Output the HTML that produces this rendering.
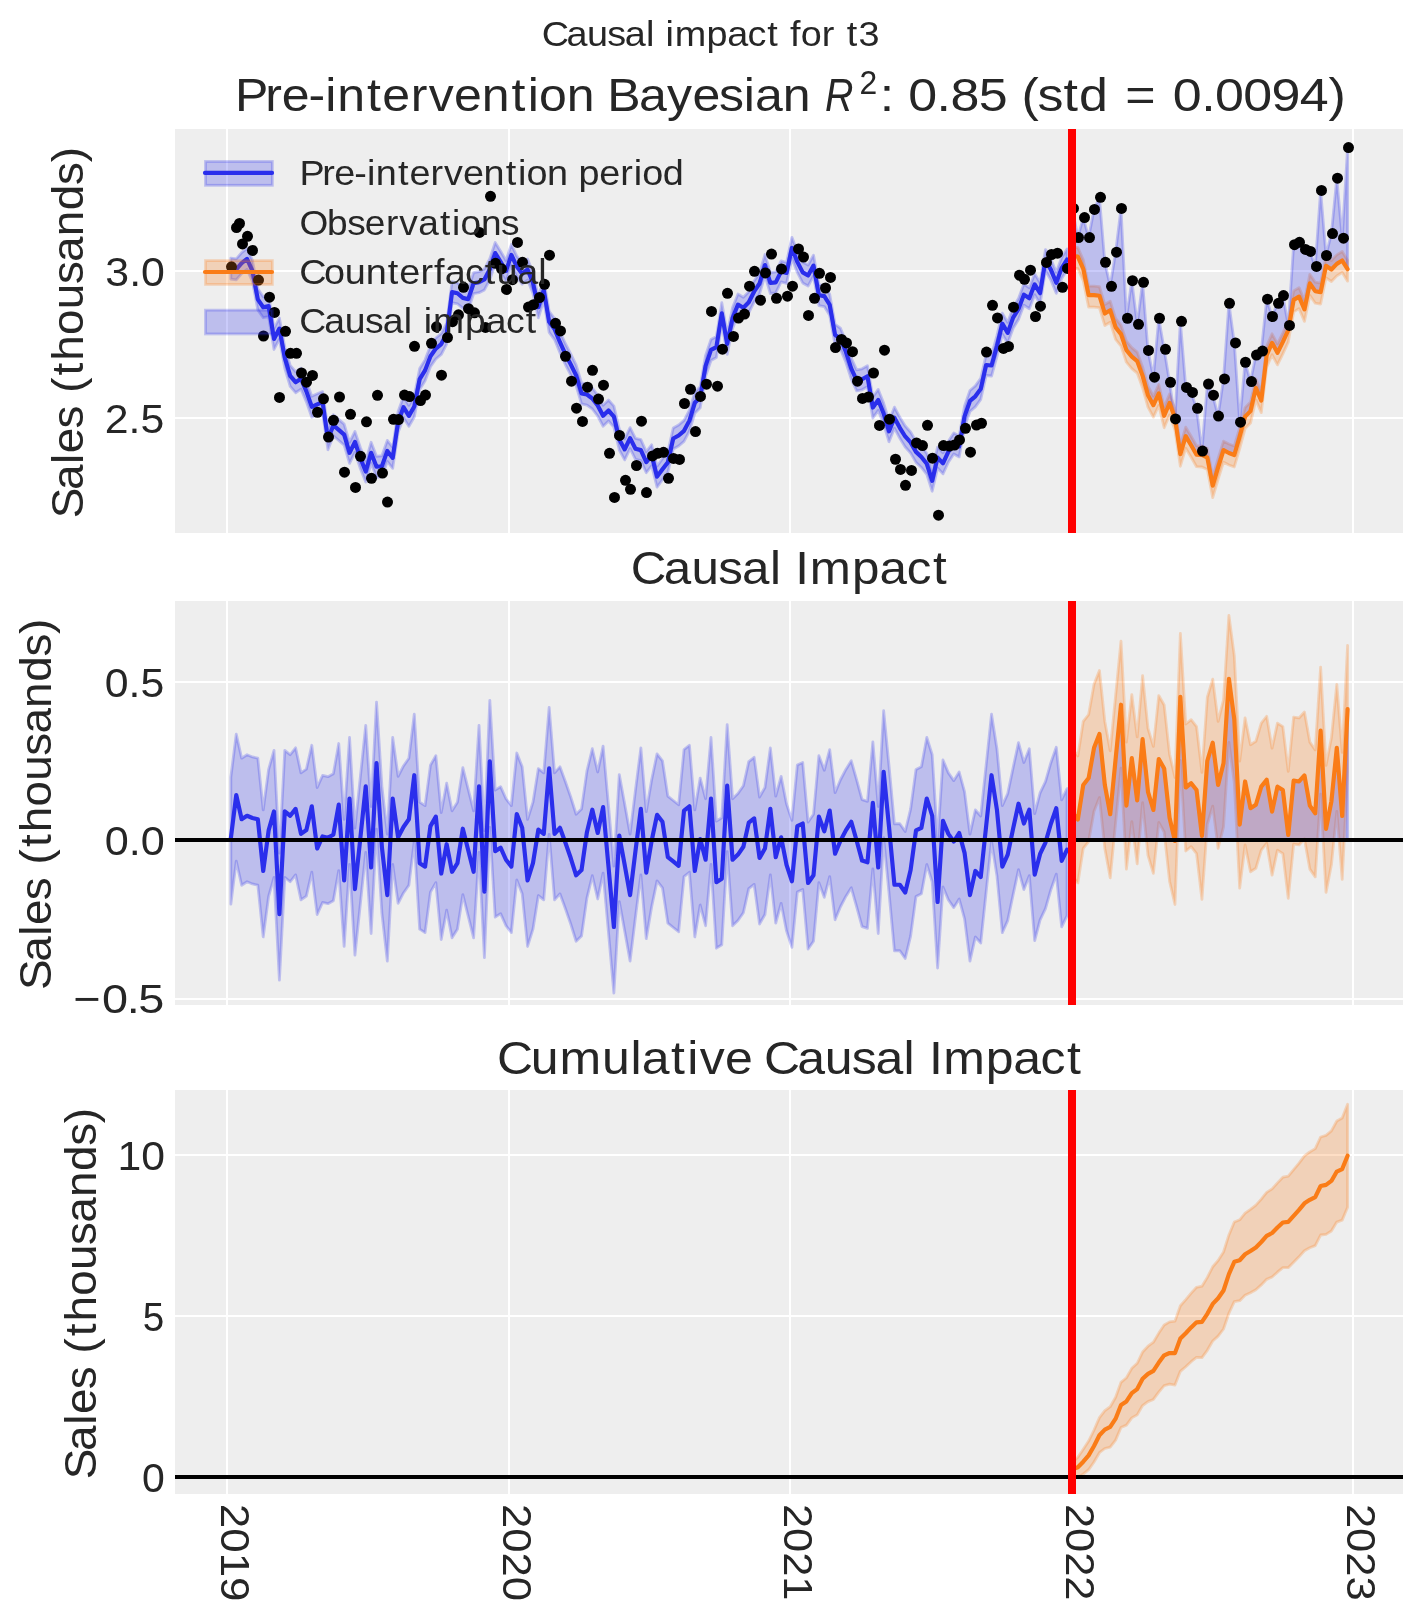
<!DOCTYPE html>
<html><head><meta charset="utf-8"><style>html,body{margin:0;padding:0;background:#fff;overflow:hidden;}svg{display:block;will-change:transform;}</style></head><body>
<svg width="1423" height="1623" viewBox="0 0 1423 1623" font-family='"Liberation Sans", sans-serif'>
<rect width="1423" height="1623" fill="#ffffff"/>
<defs><clipPath id="c0"><rect x="175" y="129" width="1228" height="404"/></clipPath></defs>
<defs><clipPath id="c1"><rect x="175" y="601" width="1228" height="404"/></clipPath></defs>
<defs><clipPath id="c2"><rect x="175" y="1090" width="1228" height="404"/></clipPath></defs>
<rect x="175" y="129" width="1228" height="404" fill="#eeeeee"/>
<line x1="227.00" y1="129" x2="227.00" y2="533" stroke="#fff" stroke-width="2.0"/><line x1="509.00" y1="129" x2="509.00" y2="533" stroke="#fff" stroke-width="2.0"/><line x1="790.00" y1="129" x2="790.00" y2="533" stroke="#fff" stroke-width="2.0"/><line x1="1072.00" y1="129" x2="1072.00" y2="533" stroke="#fff" stroke-width="2.0"/><line x1="1353.00" y1="129" x2="1353.00" y2="533" stroke="#fff" stroke-width="2.0"/><line x1="175" y1="271.00" x2="1403" y2="271.00" stroke="#fff" stroke-width="2.0"/><line x1="175" y1="418.00" x2="1403" y2="418.00" stroke="#fff" stroke-width="2.0"/>
<rect x="175" y="601" width="1228" height="404" fill="#eeeeee"/>
<line x1="227.00" y1="601" x2="227.00" y2="1005" stroke="#fff" stroke-width="2.0"/><line x1="509.00" y1="601" x2="509.00" y2="1005" stroke="#fff" stroke-width="2.0"/><line x1="790.00" y1="601" x2="790.00" y2="1005" stroke="#fff" stroke-width="2.0"/><line x1="1072.00" y1="601" x2="1072.00" y2="1005" stroke="#fff" stroke-width="2.0"/><line x1="1353.00" y1="601" x2="1353.00" y2="1005" stroke="#fff" stroke-width="2.0"/><line x1="175" y1="682.00" x2="1403" y2="682.00" stroke="#fff" stroke-width="2.0"/><line x1="175" y1="840.00" x2="1403" y2="840.00" stroke="#fff" stroke-width="2.0"/><line x1="175" y1="999.00" x2="1403" y2="999.00" stroke="#fff" stroke-width="2.0"/>
<rect x="175" y="1090" width="1228" height="404" fill="#eeeeee"/>
<line x1="227.00" y1="1090" x2="227.00" y2="1494" stroke="#fff" stroke-width="2.0"/><line x1="509.00" y1="1090" x2="509.00" y2="1494" stroke="#fff" stroke-width="2.0"/><line x1="790.00" y1="1090" x2="790.00" y2="1494" stroke="#fff" stroke-width="2.0"/><line x1="1072.00" y1="1090" x2="1072.00" y2="1494" stroke="#fff" stroke-width="2.0"/><line x1="1353.00" y1="1090" x2="1353.00" y2="1494" stroke="#fff" stroke-width="2.0"/><line x1="175" y1="1155.00" x2="1403" y2="1155.00" stroke="#fff" stroke-width="2.0"/><line x1="175" y1="1316.00" x2="1403" y2="1316.00" stroke="#fff" stroke-width="2.0"/><line x1="175" y1="1477.00" x2="1403" y2="1477.00" stroke="#fff" stroke-width="2.0"/>
<g clip-path="url(#c0)">
<polygon points="230.85,258.05 236.25,258.87 241.64,252.70 247.04,248.39 252.43,260.33 257.83,288.90 263.22,296.73 268.62,295.56 274.01,328.44 279.41,318.08 284.80,347.35 290.20,365.30 295.59,371.71 300.99,368.19 306.38,380.87 311.78,396.28 317.17,393.82 322.57,391.61 327.96,428.72 333.36,414.77 338.75,419.43 344.15,424.15 349.54,442.32 354.94,431.39 360.33,447.55 365.73,461.06 371.12,442.27 376.52,456.27 381.91,455.75 387.31,440.42 392.70,447.41 398.10,411.51 403.49,396.73 408.89,405.37 414.28,396.01 419.68,368.57 425.07,359.87 430.46,345.68 435.86,338.03 441.25,333.54 446.65,323.16 452.04,281.66 457.44,282.76 462.83,287.36 468.23,288.68 473.62,272.72 479.02,271.73 484.41,268.93 489.81,258.77 495.20,242.54 500.60,251.23 505.99,260.55 511.39,244.38 516.78,256.05 522.18,263.16 527.57,259.01 532.97,272.60 538.36,296.73 543.76,279.51 549.15,311.33 554.55,318.55 559.94,331.72 565.34,343.51 570.73,353.89 576.13,364.91 581.52,382.93 586.92,384.03 592.31,387.99 597.71,395.02 603.10,405.23 608.50,400.00 613.89,406.09 619.29,429.01 624.68,438.90 630.08,427.61 635.47,438.30 640.87,439.62 646.26,451.69 651.66,444.74 657.05,466.14 662.45,458.71 667.84,451.88 673.24,427.95 678.63,424.96 684.03,420.33 689.42,410.10 694.81,392.30 700.21,386.77 705.60,355.34 711.00,339.44 716.39,336.54 721.79,302.74 727.18,333.36 732.58,307.56 737.97,294.07 743.37,297.21 748.76,291.79 754.16,280.95 759.55,272.97 764.95,254.54 770.34,272.49 775.74,271.94 781.13,260.89 786.53,262.49 791.92,237.30 797.32,251.38 802.71,261.91 808.11,264.98 813.50,255.11 818.90,284.59 824.29,285.61 829.69,294.27 835.08,324.35 840.48,328.24 845.87,341.31 851.27,358.06 856.66,369.92 862.06,368.77 867.45,365.75 872.85,397.04 878.24,389.40 883.64,403.11 889.03,420.80 894.43,407.17 899.82,417.33 905.22,425.98 910.61,431.97 916.01,441.38 921.40,446.43 926.80,453.34 932.19,470.25 937.59,447.06 942.98,452.84 948.38,441.23 953.77,433.00 959.17,435.93 964.56,405.91 969.95,390.44 975.35,385.83 980.74,378.39 986.14,354.50 991.53,355.01 996.93,335.57 1002.32,313.18 1007.72,322.37 1013.11,307.16 1018.51,298.48 1023.90,284.11 1029.30,287.78 1034.69,273.84 1040.09,282.70 1045.48,249.56 1050.88,259.10 1056.27,272.23 1061.67,257.51 1067.06,249.02 1067.06,270.02 1061.67,278.51 1056.27,293.23 1050.88,280.10 1045.48,270.56 1040.09,303.70 1034.69,294.84 1029.30,308.78 1023.90,305.11 1018.51,319.48 1013.11,328.16 1007.72,343.37 1002.32,334.18 996.93,356.57 991.53,376.01 986.14,375.50 980.74,399.39 975.35,406.83 969.95,411.44 964.56,426.91 959.17,456.93 953.77,454.00 948.38,462.23 942.98,473.84 937.59,468.06 932.19,491.25 926.80,474.34 921.40,467.43 916.01,462.38 910.61,452.97 905.22,446.98 899.82,438.33 894.43,428.17 889.03,441.80 883.64,424.11 878.24,410.40 872.85,418.04 867.45,386.75 862.06,389.77 856.66,390.92 851.27,379.06 845.87,362.31 840.48,349.24 835.08,345.35 829.69,315.27 824.29,306.61 818.90,305.59 813.50,276.11 808.11,285.98 802.71,282.91 797.32,272.38 791.92,258.30 786.53,283.49 781.13,281.89 775.74,292.94 770.34,293.49 764.95,275.54 759.55,293.97 754.16,301.95 748.76,312.79 743.37,318.21 737.97,315.07 732.58,328.56 727.18,354.36 721.79,323.74 716.39,357.54 711.00,360.44 705.60,376.34 700.21,407.77 694.81,413.30 689.42,431.10 684.03,441.33 678.63,445.96 673.24,448.95 667.84,472.88 662.45,479.71 657.05,487.14 651.66,465.74 646.26,472.69 640.87,460.62 635.47,459.30 630.08,448.61 624.68,459.90 619.29,450.01 613.89,427.09 608.50,421.00 603.10,426.23 597.71,416.02 592.31,408.99 586.92,405.03 581.52,403.93 576.13,385.91 570.73,374.89 565.34,364.51 559.94,352.72 554.55,339.55 549.15,332.33 543.76,300.51 538.36,317.73 532.97,293.60 527.57,280.01 522.18,284.16 516.78,277.05 511.39,265.38 505.99,281.55 500.60,272.23 495.20,263.54 489.81,279.77 484.41,289.93 479.02,292.73 473.62,293.72 468.23,309.68 462.83,308.36 457.44,303.76 452.04,302.66 446.65,344.16 441.25,354.54 435.86,359.03 430.46,366.68 425.07,380.87 419.68,389.57 414.28,417.01 408.89,426.37 403.49,417.73 398.10,432.51 392.70,468.41 387.31,461.42 381.91,476.75 376.52,477.27 371.12,463.27 365.73,482.06 360.33,468.55 354.94,452.39 349.54,463.32 344.15,445.15 338.75,440.43 333.36,435.77 327.96,449.72 322.57,412.61 317.17,414.82 311.78,417.28 306.38,401.87 300.99,389.19 295.59,392.71 290.20,386.30 284.80,368.35 279.41,339.08 274.01,349.44 268.62,316.56 263.22,317.73 257.83,309.90 252.43,281.33 247.04,269.39 241.64,273.70 236.25,279.87 230.85,279.05" fill="#2a2eec" fill-opacity="0.25" stroke="#2a2eec" stroke-opacity="0.25" stroke-width="2.8" stroke-linejoin="round"/>
<polygon points="1072.46,247.00 1077.85,247.66 1083.25,259.78 1088.64,286.12 1094.04,286.10 1099.43,286.73 1104.83,304.51 1110.22,301.26 1115.62,318.39 1121.01,325.15 1126.41,341.20 1131.80,347.65 1137.20,352.11 1142.59,366.91 1147.99,386.15 1153.38,396.16 1158.78,384.47 1164.17,406.76 1169.57,394.03 1174.96,408.99 1180.36,445.21 1185.75,427.16 1191.15,436.25 1196.54,445.70 1201.94,445.98 1207.33,448.60 1212.73,476.61 1218.12,458.29 1223.52,441.11 1228.91,444.00 1234.30,445.98 1239.70,427.53 1245.09,407.61 1250.49,402.09 1255.88,378.86 1261.28,391.62 1266.67,346.18 1272.07,333.82 1277.46,343.84 1282.86,332.90 1288.25,321.13 1293.65,290.89 1299.04,287.65 1304.44,300.37 1309.83,274.36 1315.23,282.19 1320.62,283.07 1326.02,256.79 1331.41,260.47 1336.81,254.85 1342.20,251.53 1347.60,260.20 1347.60,281.20 1342.20,272.53 1336.81,275.85 1331.41,281.47 1326.02,277.79 1320.62,304.07 1315.23,303.19 1309.83,295.36 1304.44,321.37 1299.04,308.65 1293.65,311.89 1288.25,342.13 1282.86,353.90 1277.46,364.84 1272.07,354.82 1266.67,367.18 1261.28,412.62 1255.88,399.86 1250.49,423.09 1245.09,428.61 1239.70,448.53 1234.30,466.98 1228.91,465.00 1223.52,462.11 1218.12,479.29 1212.73,497.61 1207.33,469.60 1201.94,466.98 1196.54,466.70 1191.15,457.25 1185.75,448.16 1180.36,466.21 1174.96,429.99 1169.57,415.03 1164.17,427.76 1158.78,405.47 1153.38,417.16 1147.99,407.15 1142.59,387.91 1137.20,373.11 1131.80,368.65 1126.41,362.20 1121.01,346.15 1115.62,339.39 1110.22,322.26 1104.83,325.51 1099.43,307.73 1094.04,307.10 1088.64,307.12 1083.25,280.78 1077.85,268.66 1072.46,268.00" fill="#fa7c17" fill-opacity="0.25" stroke="#fa7c17" stroke-opacity="0.25" stroke-width="2.8" stroke-linejoin="round"/>
<polygon points="1072.46,208.47 1077.85,237.54 1083.25,217.62 1088.64,237.54 1094.04,209.48 1099.43,197.28 1104.83,262.35 1110.22,286.34 1115.62,252.18 1121.01,208.47 1126.41,318.26 1131.80,280.65 1137.20,324.36 1142.59,282.27 1147.99,350.39 1153.38,377.23 1158.78,318.26 1164.17,349.37 1169.57,382.31 1174.96,418.91 1180.36,321.31 1185.75,387.39 1191.15,392.48 1196.54,408.34 1201.94,451.09 1207.33,383.99 1212.73,395.18 1218.12,416.12 1223.52,378.91 1228.91,303.27 1234.30,342.92 1239.70,422.22 1245.09,362.24 1250.49,381.55 1255.88,355.12 1261.28,351.05 1266.67,299.21 1272.07,316.49 1277.46,303.27 1282.86,295.55 1288.25,325.43 1293.65,244.71 1299.04,242.27 1304.44,249.39 1309.83,251.42 1315.23,266.47 1320.62,190.43 1326.02,255.49 1331.41,233.53 1336.81,178.23 1342.20,238.21 1347.60,147.52 1347.60,269.20 1342.20,260.53 1336.81,263.85 1331.41,269.47 1326.02,265.79 1320.62,292.07 1315.23,291.19 1309.83,283.36 1304.44,309.37 1299.04,296.65 1293.65,299.89 1288.25,330.13 1282.86,341.90 1277.46,352.84 1272.07,342.82 1266.67,355.18 1261.28,400.62 1255.88,387.86 1250.49,411.09 1245.09,416.61 1239.70,436.53 1234.30,454.98 1228.91,453.00 1223.52,450.11 1218.12,467.29 1212.73,485.61 1207.33,457.60 1201.94,454.98 1196.54,454.70 1191.15,445.25 1185.75,436.16 1180.36,454.21 1174.96,417.99 1169.57,403.03 1164.17,415.76 1158.78,393.47 1153.38,405.16 1147.99,395.15 1142.59,375.91 1137.20,361.11 1131.80,356.65 1126.41,350.20 1121.01,334.15 1115.62,327.39 1110.22,310.26 1104.83,313.51 1099.43,295.73 1094.04,295.10 1088.64,295.12 1083.25,268.78 1077.85,256.66 1072.46,256.00" fill="#2a2eec" fill-opacity="0.25" stroke="#2a2eec" stroke-opacity="0.25" stroke-width="2.8" stroke-linejoin="round"/>
<polyline points="230.85,268.55 236.25,269.37 241.64,263.20 247.04,258.89 252.43,270.83 257.83,299.40 263.22,307.23 268.62,306.06 274.01,338.94 279.41,328.58 284.80,357.85 290.20,375.80 295.59,382.21 300.99,378.69 306.38,391.37 311.78,406.78 317.17,404.32 322.57,402.11 327.96,439.22 333.36,425.27 338.75,429.93 344.15,434.65 349.54,452.82 354.94,441.89 360.33,458.05 365.73,471.56 371.12,452.77 376.52,466.77 381.91,466.25 387.31,450.92 392.70,457.91 398.10,422.01 403.49,407.23 408.89,415.87 414.28,406.51 419.68,379.07 425.07,370.37 430.46,356.18 435.86,348.53 441.25,344.04 446.65,333.66 452.04,292.16 457.44,293.26 462.83,297.86 468.23,299.18 473.62,283.22 479.02,282.23 484.41,279.43 489.81,269.27 495.20,253.04 500.60,261.73 505.99,271.05 511.39,254.88 516.78,266.55 522.18,273.66 527.57,269.51 532.97,283.10 538.36,307.23 543.76,290.01 549.15,321.83 554.55,329.05 559.94,342.22 565.34,354.01 570.73,364.39 576.13,375.41 581.52,393.43 586.92,394.53 592.31,398.49 597.71,405.52 603.10,415.73 608.50,410.50 613.89,416.59 619.29,439.51 624.68,449.40 630.08,438.11 635.47,448.80 640.87,450.12 646.26,462.19 651.66,455.24 657.05,476.64 662.45,469.21 667.84,462.38 673.24,438.45 678.63,435.46 684.03,430.83 689.42,420.60 694.81,402.80 700.21,397.27 705.60,365.84 711.00,349.94 716.39,347.04 721.79,313.24 727.18,343.86 732.58,318.06 737.97,304.57 743.37,307.71 748.76,302.29 754.16,291.45 759.55,283.47 764.95,265.04 770.34,282.99 775.74,282.44 781.13,271.39 786.53,272.99 791.92,247.80 797.32,261.88 802.71,272.41 808.11,275.48 813.50,265.61 818.90,295.09 824.29,296.11 829.69,304.77 835.08,334.85 840.48,338.74 845.87,351.81 851.27,368.56 856.66,380.42 862.06,379.27 867.45,376.25 872.85,407.54 878.24,399.90 883.64,413.61 889.03,431.30 894.43,417.67 899.82,427.83 905.22,436.48 910.61,442.47 916.01,451.88 921.40,456.93 926.80,463.84 932.19,480.75 937.59,457.56 942.98,463.34 948.38,451.73 953.77,443.50 959.17,446.43 964.56,416.41 969.95,400.94 975.35,396.33 980.74,388.89 986.14,365.00 991.53,365.51 996.93,346.07 1002.32,323.68 1007.72,332.87 1013.11,317.66 1018.51,308.98 1023.90,294.61 1029.30,298.28 1034.69,284.34 1040.09,293.20 1045.48,260.06 1050.88,269.60 1056.27,282.73 1061.67,268.01 1067.06,259.52" fill="none" stroke="#2a2eec" stroke-width="4.17" stroke-opacity="1.0" stroke-linejoin="round" stroke-linecap="round"/>
<polyline points="1072.46,256.00 1077.85,256.66 1083.25,268.78 1088.64,295.12 1094.04,295.10 1099.43,295.73 1104.83,313.51 1110.22,310.26 1115.62,327.39 1121.01,334.15 1126.41,350.20 1131.80,356.65 1137.20,361.11 1142.59,375.91 1147.99,395.15 1153.38,405.16 1158.78,393.47 1164.17,415.76 1169.57,403.03 1174.96,417.99 1180.36,454.21 1185.75,436.16 1191.15,445.25 1196.54,454.70 1201.94,454.98 1207.33,457.60 1212.73,485.61 1218.12,467.29 1223.52,450.11 1228.91,453.00 1234.30,454.98 1239.70,436.53 1245.09,416.61 1250.49,411.09 1255.88,387.86 1261.28,400.62 1266.67,355.18 1272.07,342.82 1277.46,352.84 1282.86,341.90 1288.25,330.13 1293.65,299.89 1299.04,296.65 1304.44,309.37 1309.83,283.36 1315.23,291.19 1320.62,292.07 1326.02,265.79 1331.41,269.47 1336.81,263.85 1342.20,260.53 1347.60,269.20" fill="none" stroke="#fa7c17" stroke-width="4.17" stroke-opacity="1.0" stroke-linejoin="round" stroke-linecap="round"/>
<g fill="#000"><circle cx="231.50" cy="266.86" r="5.5"/><circle cx="236.50" cy="227.62" r="5.5"/><circle cx="242.50" cy="243.88" r="5.5"/><circle cx="247.50" cy="236.36" r="5.5"/><circle cx="252.50" cy="250.39" r="5.5"/><circle cx="258.50" cy="280.07" r="5.5"/><circle cx="263.50" cy="335.99" r="5.5"/><circle cx="269.50" cy="297.15" r="5.5"/><circle cx="274.50" cy="312.40" r="5.5"/><circle cx="279.50" cy="397.39" r="5.5"/><circle cx="285.50" cy="331.31" r="5.5"/><circle cx="290.50" cy="353.27" r="5.5"/><circle cx="296.50" cy="353.27" r="5.5"/><circle cx="301.50" cy="372.99" r="5.5"/><circle cx="306.50" cy="382.14" r="5.5"/><circle cx="312.50" cy="375.43" r="5.5"/><circle cx="317.50" cy="412.24" r="5.5"/><circle cx="323.50" cy="398.82" r="5.5"/><circle cx="328.50" cy="437.04" r="5.5"/><circle cx="333.50" cy="420.37" r="5.5"/><circle cx="339.50" cy="396.99" r="5.5"/><circle cx="344.50" cy="472.22" r="5.5"/><circle cx="350.50" cy="414.27" r="5.5"/><circle cx="355.50" cy="487.47" r="5.5"/><circle cx="360.50" cy="456.36" r="5.5"/><circle cx="366.50" cy="421.79" r="5.5"/><circle cx="371.50" cy="478.32" r="5.5"/><circle cx="377.50" cy="395.36" r="5.5"/><circle cx="382.50" cy="473.03" r="5.5"/><circle cx="387.50" cy="502.11" r="5.5"/><circle cx="393.50" cy="419.35" r="5.5"/><circle cx="398.50" cy="419.52" r="5.5"/><circle cx="404.50" cy="395.12" r="5.5"/><circle cx="409.50" cy="396.54" r="5.5"/><circle cx="414.50" cy="346.32" r="5.5"/><circle cx="420.50" cy="400.61" r="5.5"/><circle cx="425.50" cy="395.12" r="5.5"/><circle cx="431.50" cy="343.27" r="5.5"/><circle cx="436.50" cy="326.80" r="5.5"/><circle cx="441.50" cy="375.19" r="5.5"/><circle cx="447.50" cy="337.58" r="5.5"/><circle cx="452.50" cy="321.72" r="5.5"/><circle cx="458.50" cy="314.81" r="5.5"/><circle cx="463.50" cy="287.36" r="5.5"/><circle cx="468.50" cy="308.71" r="5.5"/><circle cx="474.50" cy="312.77" r="5.5"/><circle cx="479.50" cy="232.46" r="5.5"/><circle cx="485.50" cy="327.41" r="5.5"/><circle cx="490.50" cy="196.27" r="5.5"/><circle cx="495.50" cy="263.36" r="5.5"/><circle cx="501.50" cy="268.85" r="5.5"/><circle cx="506.50" cy="289.39" r="5.5"/><circle cx="512.50" cy="279.63" r="5.5"/><circle cx="517.50" cy="242.42" r="5.5"/><circle cx="522.50" cy="262.35" r="5.5"/><circle cx="528.50" cy="307.08" r="5.5"/><circle cx="533.50" cy="304.64" r="5.5"/><circle cx="539.50" cy="297.52" r="5.5"/><circle cx="544.50" cy="284.31" r="5.5"/><circle cx="549.50" cy="255.23" r="5.5"/><circle cx="555.50" cy="323.35" r="5.5"/><circle cx="560.50" cy="330.91" r="5.5"/><circle cx="565.50" cy="356.32" r="5.5"/><circle cx="571.50" cy="381.13" r="5.5"/><circle cx="576.50" cy="408.17" r="5.5"/><circle cx="582.50" cy="421.39" r="5.5"/><circle cx="587.50" cy="387.23" r="5.5"/><circle cx="592.50" cy="370.35" r="5.5"/><circle cx="598.50" cy="399.02" r="5.5"/><circle cx="603.50" cy="385.19" r="5.5"/><circle cx="609.50" cy="453.31" r="5.5"/><circle cx="614.50" cy="497.43" r="5.5"/><circle cx="619.50" cy="435.42" r="5.5"/><circle cx="625.50" cy="480.35" r="5.5"/><circle cx="630.50" cy="489.30" r="5.5"/><circle cx="636.50" cy="465.51" r="5.5"/><circle cx="641.50" cy="421.18" r="5.5"/><circle cx="646.50" cy="492.55" r="5.5"/><circle cx="652.50" cy="455.95" r="5.5"/><circle cx="657.50" cy="453.31" r="5.5"/><circle cx="663.50" cy="452.29" r="5.5"/><circle cx="668.50" cy="478.32" r="5.5"/><circle cx="673.50" cy="458.39" r="5.5"/><circle cx="679.50" cy="459.41" r="5.5"/><circle cx="684.50" cy="403.49" r="5.5"/><circle cx="690.50" cy="389.26" r="5.5"/><circle cx="695.50" cy="431.55" r="5.5"/><circle cx="700.50" cy="396.38" r="5.5"/><circle cx="706.50" cy="384.18" r="5.5"/><circle cx="711.50" cy="311.39" r="5.5"/><circle cx="717.50" cy="386.21" r="5.5"/><circle cx="722.50" cy="349.21" r="5.5"/><circle cx="727.50" cy="293.29" r="5.5"/><circle cx="733.50" cy="336.40" r="5.5"/><circle cx="738.50" cy="318.10" r="5.5"/><circle cx="744.50" cy="314.03" r="5.5"/><circle cx="749.50" cy="286.17" r="5.5"/><circle cx="754.50" cy="271.33" r="5.5"/><circle cx="760.50" cy="300.20" r="5.5"/><circle cx="765.50" cy="272.96" r="5.5"/><circle cx="771.50" cy="254.05" r="5.5"/><circle cx="776.50" cy="298.37" r="5.5"/><circle cx="781.50" cy="268.89" r="5.5"/><circle cx="787.50" cy="296.14" r="5.5"/><circle cx="792.50" cy="286.17" r="5.5"/><circle cx="798.50" cy="248.96" r="5.5"/><circle cx="803.50" cy="257.10" r="5.5"/><circle cx="808.50" cy="315.45" r="5.5"/><circle cx="814.50" cy="298.37" r="5.5"/><circle cx="819.50" cy="273.36" r="5.5"/><circle cx="825.50" cy="288.00" r="5.5"/><circle cx="830.50" cy="277.43" r="5.5"/><circle cx="835.50" cy="347.58" r="5.5"/><circle cx="841.50" cy="339.45" r="5.5"/><circle cx="846.50" cy="342.90" r="5.5"/><circle cx="852.50" cy="351.65" r="5.5"/><circle cx="857.50" cy="381.13" r="5.5"/><circle cx="862.50" cy="398.41" r="5.5"/><circle cx="868.50" cy="396.99" r="5.5"/><circle cx="873.50" cy="372.99" r="5.5"/><circle cx="879.50" cy="425.45" r="5.5"/><circle cx="884.50" cy="350.22" r="5.5"/><circle cx="889.50" cy="419.19" r="5.5"/><circle cx="895.50" cy="459.24" r="5.5"/><circle cx="900.50" cy="469.41" r="5.5"/><circle cx="905.50" cy="485.27" r="5.5"/><circle cx="911.50" cy="470.43" r="5.5"/><circle cx="916.50" cy="442.98" r="5.5"/><circle cx="922.50" cy="445.62" r="5.5"/><circle cx="927.50" cy="425.29" r="5.5"/><circle cx="932.50" cy="458.23" r="5.5"/><circle cx="938.50" cy="515.16" r="5.5"/><circle cx="943.50" cy="445.62" r="5.5"/><circle cx="949.50" cy="446.03" r="5.5"/><circle cx="954.50" cy="445.01" r="5.5"/><circle cx="959.50" cy="439.93" r="5.5"/><circle cx="965.50" cy="428.34" r="5.5"/><circle cx="970.50" cy="452.13" r="5.5"/><circle cx="976.50" cy="425.08" r="5.5"/><circle cx="981.50" cy="423.25" r="5.5"/><circle cx="986.50" cy="352.09" r="5.5"/><circle cx="992.50" cy="305.32" r="5.5"/><circle cx="997.50" cy="317.93" r="5.5"/><circle cx="1003.50" cy="348.43" r="5.5"/><circle cx="1008.50" cy="346.40" r="5.5"/><circle cx="1013.50" cy="307.15" r="5.5"/><circle cx="1019.50" cy="275.23" r="5.5"/><circle cx="1024.50" cy="279.30" r="5.5"/><circle cx="1030.50" cy="270.15" r="5.5"/><circle cx="1035.50" cy="316.51" r="5.5"/><circle cx="1040.50" cy="306.14" r="5.5"/><circle cx="1046.50" cy="262.42" r="5.5"/><circle cx="1051.50" cy="254.49" r="5.5"/><circle cx="1057.50" cy="253.20" r="5.5"/><circle cx="1062.50" cy="287.36" r="5.5"/><circle cx="1067.50" cy="268.45" r="5.5"/><circle cx="1073.50" cy="208.47" r="5.5"/><circle cx="1078.50" cy="237.54" r="5.5"/><circle cx="1084.50" cy="217.62" r="5.5"/><circle cx="1089.50" cy="237.54" r="5.5"/><circle cx="1094.50" cy="209.48" r="5.5"/><circle cx="1100.50" cy="197.28" r="5.5"/><circle cx="1105.50" cy="262.35" r="5.5"/><circle cx="1111.50" cy="286.34" r="5.5"/><circle cx="1116.50" cy="252.18" r="5.5"/><circle cx="1121.50" cy="208.47" r="5.5"/><circle cx="1127.50" cy="318.26" r="5.5"/><circle cx="1132.50" cy="280.65" r="5.5"/><circle cx="1138.50" cy="324.36" r="5.5"/><circle cx="1143.50" cy="282.27" r="5.5"/><circle cx="1148.50" cy="350.39" r="5.5"/><circle cx="1154.50" cy="377.23" r="5.5"/><circle cx="1159.50" cy="318.26" r="5.5"/><circle cx="1165.50" cy="349.37" r="5.5"/><circle cx="1170.50" cy="382.31" r="5.5"/><circle cx="1175.50" cy="418.91" r="5.5"/><circle cx="1181.50" cy="321.31" r="5.5"/><circle cx="1186.50" cy="387.39" r="5.5"/><circle cx="1192.50" cy="392.48" r="5.5"/><circle cx="1197.50" cy="408.34" r="5.5"/><circle cx="1202.50" cy="451.09" r="5.5"/><circle cx="1208.50" cy="383.99" r="5.5"/><circle cx="1213.50" cy="395.18" r="5.5"/><circle cx="1218.50" cy="416.12" r="5.5"/><circle cx="1224.50" cy="378.91" r="5.5"/><circle cx="1229.50" cy="303.27" r="5.5"/><circle cx="1235.50" cy="342.92" r="5.5"/><circle cx="1240.50" cy="422.22" r="5.5"/><circle cx="1245.50" cy="362.24" r="5.5"/><circle cx="1251.50" cy="381.55" r="5.5"/><circle cx="1256.50" cy="355.12" r="5.5"/><circle cx="1262.50" cy="351.05" r="5.5"/><circle cx="1267.50" cy="299.21" r="5.5"/><circle cx="1272.50" cy="316.49" r="5.5"/><circle cx="1278.50" cy="303.27" r="5.5"/><circle cx="1283.50" cy="295.55" r="5.5"/><circle cx="1289.50" cy="325.43" r="5.5"/><circle cx="1294.50" cy="244.71" r="5.5"/><circle cx="1299.50" cy="242.27" r="5.5"/><circle cx="1305.50" cy="249.39" r="5.5"/><circle cx="1310.50" cy="251.42" r="5.5"/><circle cx="1316.50" cy="266.47" r="5.5"/><circle cx="1321.50" cy="190.43" r="5.5"/><circle cx="1326.50" cy="255.49" r="5.5"/><circle cx="1332.50" cy="233.53" r="5.5"/><circle cx="1337.50" cy="178.23" r="5.5"/><circle cx="1343.50" cy="238.21" r="5.5"/><circle cx="1348.50" cy="147.52" r="5.5"/></g>
</g>
<g clip-path="url(#c1)">
<polygon points="230.85,777.18 236.25,734.05 241.64,758.20 247.04,754.75 252.43,756.99 257.83,758.20 263.22,809.96 268.62,769.41 274.01,750.44 279.41,853.09 284.80,750.44 290.20,754.75 295.59,747.85 300.99,772.86 306.38,769.07 311.78,745.26 317.17,787.53 322.57,775.45 327.96,776.66 333.36,773.73 338.75,743.53 344.15,819.44 349.54,737.50 354.94,828.07 360.33,777.18 365.73,725.42 371.12,806.50 376.52,702.13 381.91,786.30 387.31,834.11 392.70,737.50 398.10,776.31 403.49,765.96 408.89,758.20 414.28,714.21 419.68,802.19 425.07,805.64 430.46,765.10 435.86,755.61 441.25,812.54 446.65,783.21 452.04,810.82 457.44,802.19 462.83,767.69 468.23,789.25 473.62,810.82 479.02,725.42 484.41,830.66 489.81,700.40 495.20,790.12 500.60,786.66 505.99,798.74 511.39,805.64 516.78,753.02 522.18,766.83 527.57,819.44 532.97,802.19 538.36,768.55 543.76,772.86 549.15,707.31 554.55,772.86 559.94,766.83 565.34,781.49 570.73,797.02 576.13,814.27 581.52,809.09 586.92,771.14 592.31,748.71 597.71,772.00 603.10,746.12 608.50,805.64 613.89,866.02 619.29,774.59 624.68,803.92 630.08,834.11 635.47,790.12 640.87,747.85 646.26,811.68 651.66,779.76 657.05,753.89 662.45,760.79 667.84,796.15 673.24,800.47 678.63,804.78 684.03,749.57 689.42,745.26 694.81,809.96 700.21,778.04 705.60,798.74 711.00,737.50 716.39,821.17 721.79,817.72 727.18,724.56 732.58,798.74 737.97,793.57 743.37,785.80 748.76,761.65 754.16,757.34 759.55,797.02 764.95,787.53 770.34,747.85 775.74,796.15 781.13,776.31 786.53,803.92 791.92,820.31 797.32,765.10 802.71,762.51 808.11,822.03 813.50,814.27 818.90,755.61 824.29,770.28 829.69,749.57 835.08,792.70 840.48,779.76 845.87,769.41 851.27,760.79 856.66,779.76 862.06,799.60 867.45,801.33 872.85,741.81 878.24,806.50 883.64,710.76 889.03,765.96 894.43,823.76 899.82,823.76 905.22,831.52 910.61,809.09 916.01,769.41 921.40,766.83 926.80,737.50 932.19,754.75 937.59,841.01 942.98,759.92 948.38,772.86 953.77,780.63 959.17,772.00 964.56,791.84 969.95,834.11 975.35,809.96 980.74,815.99 986.14,765.10 991.53,714.21 996.93,748.71 1002.32,805.64 1007.72,793.57 1013.11,767.69 1018.51,742.67 1023.90,762.51 1029.30,748.71 1034.69,813.63 1040.09,792.92 1045.48,781.54 1050.88,762.73 1056.27,747.21 1061.67,799.83 1067.06,788.61 1067.06,915.61 1061.67,926.83 1056.27,874.21 1050.88,889.73 1045.48,908.54 1040.09,919.92 1034.69,940.63 1029.30,875.71 1023.90,889.51 1018.51,869.67 1013.11,894.69 1007.72,920.57 1002.32,932.64 996.93,875.71 991.53,841.21 986.14,892.10 980.74,942.99 975.35,936.96 969.95,961.11 964.56,918.84 959.17,899.00 953.77,907.63 948.38,899.86 942.98,886.92 937.59,968.01 932.19,881.75 926.80,864.50 921.40,893.83 916.01,896.41 910.61,936.09 905.22,958.52 899.82,950.76 894.43,950.76 889.03,892.96 883.64,837.76 878.24,933.50 872.85,868.81 867.45,928.33 862.06,926.60 856.66,906.76 851.27,887.79 845.87,896.41 840.48,906.76 835.08,919.70 829.69,876.57 824.29,897.28 818.90,882.61 813.50,941.27 808.11,949.03 802.71,889.51 797.32,892.10 791.92,947.31 786.53,930.92 781.13,903.31 775.74,923.15 770.34,874.85 764.95,914.53 759.55,924.02 754.16,884.34 748.76,888.65 743.37,912.80 737.97,920.57 732.58,925.74 727.18,851.56 721.79,944.72 716.39,948.17 711.00,864.50 705.60,925.74 700.21,905.04 694.81,936.96 689.42,872.26 684.03,876.57 678.63,931.78 673.24,927.47 667.84,923.15 662.45,887.79 657.05,880.89 651.66,906.76 646.26,938.68 640.87,874.85 635.47,917.12 630.08,961.11 624.68,930.92 619.29,901.59 613.89,993.02 608.50,932.64 603.10,873.12 597.71,899.00 592.31,875.71 586.92,898.14 581.52,936.09 576.13,941.27 570.73,924.02 565.34,908.49 559.94,893.83 554.55,899.86 549.15,834.31 543.76,899.86 538.36,895.55 532.97,929.19 527.57,946.44 522.18,893.83 516.78,880.02 511.39,932.64 505.99,925.74 500.60,913.66 495.20,917.12 489.81,827.40 484.41,957.66 479.02,852.42 473.62,937.82 468.23,916.25 462.83,894.69 457.44,929.19 452.04,937.82 446.65,910.21 441.25,939.54 435.86,882.61 430.46,892.10 425.07,932.64 419.68,929.19 414.28,841.21 408.89,885.20 403.49,892.96 398.10,903.31 392.70,864.50 387.31,961.11 381.91,913.30 376.52,829.13 371.12,933.50 365.73,852.42 360.33,904.18 354.94,955.07 349.54,864.50 344.15,946.44 338.75,870.53 333.36,900.73 327.96,903.66 322.57,902.45 317.17,914.53 311.78,872.26 306.38,896.07 300.99,899.86 295.59,874.85 290.20,881.75 284.80,877.44 279.41,980.09 274.01,877.44 268.62,896.41 263.22,936.96 257.83,885.20 252.43,883.99 247.04,881.75 241.64,885.20 236.25,861.05 230.85,904.18" fill="#2a2eec" fill-opacity="0.25" stroke="#2a2eec" stroke-opacity="0.25" stroke-width="2.8" stroke-linejoin="round"/>
<polygon points="1072.46,749.02 1077.85,755.92 1083.25,721.42 1088.64,714.52 1094.04,684.33 1099.43,670.52 1104.83,721.42 1110.22,750.75 1115.62,695.54 1121.01,641.20 1126.41,742.12 1131.80,694.68 1137.20,736.94 1142.59,675.70 1147.99,728.32 1153.38,746.43 1158.78,695.54 1164.17,705.03 1169.57,754.20 1174.96,777.49 1180.36,633.43 1185.75,724.00 1191.15,719.69 1196.54,726.59 1201.94,772.31 1207.33,697.26 1212.73,679.15 1218.12,721.42 1223.52,699.85 1228.91,615.32 1234.30,655.86 1239.70,761.10 1245.09,717.97 1250.49,744.71 1255.88,741.26 1261.28,723.14 1266.67,716.24 1272.07,748.16 1277.46,723.14 1282.86,726.59 1288.25,771.45 1293.65,717.10 1299.04,717.97 1304.44,711.93 1309.83,742.12 1315.23,749.88 1320.62,667.07 1326.02,765.41 1331.41,737.81 1336.81,684.33 1342.20,752.47 1347.60,645.51 1347.60,772.51 1342.20,879.47 1336.81,811.33 1331.41,864.81 1326.02,892.41 1320.62,794.07 1315.23,876.88 1309.83,869.12 1304.44,838.93 1299.04,844.97 1293.65,844.10 1288.25,898.45 1282.86,853.59 1277.46,850.14 1272.07,875.16 1266.67,843.24 1261.28,850.14 1255.88,868.26 1250.49,871.71 1245.09,844.97 1239.70,888.10 1234.30,782.86 1228.91,742.32 1223.52,826.85 1218.12,848.42 1212.73,806.15 1207.33,824.26 1201.94,899.31 1196.54,853.59 1191.15,846.69 1185.75,851.00 1180.36,760.43 1174.96,904.49 1169.57,881.20 1164.17,832.03 1158.78,822.54 1153.38,873.43 1147.99,855.32 1142.59,802.70 1137.20,863.94 1131.80,821.68 1126.41,869.12 1121.01,768.20 1115.62,822.54 1110.22,877.75 1104.83,848.42 1099.43,797.52 1094.04,811.33 1088.64,841.52 1083.25,848.42 1077.85,882.92 1072.46,876.02" fill="#fa7c17" fill-opacity="0.25" stroke="#fa7c17" stroke-opacity="0.25" stroke-width="2.8" stroke-linejoin="round"/>
<polygon points="1072.46,812.52 1077.85,819.42 1083.25,784.92 1088.64,778.02 1094.04,747.83 1099.43,734.02 1104.83,784.92 1110.22,814.25 1115.62,759.04 1121.01,704.70 1126.41,805.62 1131.80,758.18 1137.20,800.44 1142.59,739.20 1147.99,791.82 1153.38,809.93 1158.78,759.04 1164.17,768.53 1169.57,817.70 1174.96,840.99 1180.36,696.93 1185.75,787.50 1191.15,783.19 1196.54,790.09 1201.94,835.81 1207.33,760.76 1212.73,742.65 1218.12,784.92 1223.52,763.35 1228.91,678.82 1234.30,719.36 1239.70,824.60 1245.09,781.47 1250.49,808.21 1255.88,804.76 1261.28,786.64 1266.67,779.74 1272.07,811.66 1277.46,786.64 1282.86,790.09 1288.25,834.95 1293.65,780.60 1299.04,781.47 1304.44,775.43 1309.83,805.62 1315.23,813.38 1320.62,730.57 1326.02,828.91 1331.41,801.31 1336.81,747.83 1342.20,815.97 1347.60,709.01 1347.60,840.00 1342.20,840.00 1336.81,840.00 1331.41,840.00 1326.02,840.00 1320.62,840.00 1315.23,840.00 1309.83,840.00 1304.44,840.00 1299.04,840.00 1293.65,840.00 1288.25,840.00 1282.86,840.00 1277.46,840.00 1272.07,840.00 1266.67,840.00 1261.28,840.00 1255.88,840.00 1250.49,840.00 1245.09,840.00 1239.70,840.00 1234.30,840.00 1228.91,840.00 1223.52,840.00 1218.12,840.00 1212.73,840.00 1207.33,840.00 1201.94,840.00 1196.54,840.00 1191.15,840.00 1185.75,840.00 1180.36,840.00 1174.96,840.00 1169.57,840.00 1164.17,840.00 1158.78,840.00 1153.38,840.00 1147.99,840.00 1142.59,840.00 1137.20,840.00 1131.80,840.00 1126.41,840.00 1121.01,840.00 1115.62,840.00 1110.22,840.00 1104.83,840.00 1099.43,840.00 1094.04,840.00 1088.64,840.00 1083.25,840.00 1077.85,840.00 1072.46,840.00" fill="#2a2eec" fill-opacity="0.25" stroke="#2a2eec" stroke-opacity="0.25" stroke-width="2.8" stroke-linejoin="round"/>
<polyline points="230.85,838.18 236.25,795.05 241.64,819.20 247.04,815.75 252.43,817.99 257.83,819.20 263.22,870.96 268.62,830.41 274.01,811.44 279.41,914.09 284.80,811.44 290.20,815.75 295.59,808.85 300.99,833.86 306.38,830.07 311.78,806.26 317.17,848.53 322.57,836.45 327.96,837.66 333.36,834.73 338.75,804.53 344.15,880.44 349.54,798.50 354.94,889.07 360.33,838.18 365.73,786.42 371.12,867.50 376.52,763.13 381.91,847.30 387.31,895.11 392.70,798.50 398.10,837.31 403.49,826.96 408.89,819.20 414.28,775.21 419.68,863.19 425.07,866.64 430.46,826.10 435.86,816.61 441.25,873.54 446.65,844.21 452.04,871.82 457.44,863.19 462.83,828.69 468.23,850.25 473.62,871.82 479.02,786.42 484.41,891.66 489.81,761.40 495.20,851.12 500.60,847.66 505.99,859.74 511.39,866.64 516.78,814.02 522.18,827.83 527.57,880.44 532.97,863.19 538.36,829.55 543.76,833.86 549.15,768.31 554.55,833.86 559.94,827.83 565.34,842.49 570.73,858.02 576.13,875.27 581.52,870.09 586.92,832.14 592.31,809.71 597.71,833.00 603.10,807.12 608.50,866.64 613.89,927.02 619.29,835.59 624.68,864.92 630.08,895.11 635.47,851.12 640.87,808.85 646.26,872.68 651.66,840.76 657.05,814.89 662.45,821.79 667.84,857.15 673.24,861.47 678.63,865.78 684.03,810.57 689.42,806.26 694.81,870.96 700.21,839.04 705.60,859.74 711.00,798.50 716.39,882.17 721.79,878.72 727.18,785.56 732.58,859.74 737.97,854.57 743.37,846.80 748.76,822.65 754.16,818.34 759.55,858.02 764.95,848.53 770.34,808.85 775.74,857.15 781.13,837.31 786.53,864.92 791.92,881.31 797.32,826.10 802.71,823.51 808.11,883.03 813.50,875.27 818.90,816.61 824.29,831.28 829.69,810.57 835.08,853.70 840.48,840.76 845.87,830.41 851.27,821.79 856.66,840.76 862.06,860.60 867.45,862.33 872.85,802.81 878.24,867.50 883.64,771.76 889.03,826.96 894.43,884.76 899.82,884.76 905.22,892.52 910.61,870.09 916.01,830.41 921.40,827.83 926.80,798.50 932.19,815.75 937.59,902.01 942.98,820.92 948.38,833.86 953.77,841.63 959.17,833.00 964.56,852.84 969.95,895.11 975.35,870.96 980.74,876.99 986.14,826.10 991.53,775.21 996.93,809.71 1002.32,866.64 1007.72,854.57 1013.11,828.69 1018.51,803.67 1023.90,823.51 1029.30,809.71 1034.69,874.63 1040.09,853.92 1045.48,842.54 1050.88,823.73 1056.27,808.21 1061.67,860.83 1067.06,849.61" fill="none" stroke="#2a2eec" stroke-width="4.17" stroke-opacity="1.0" stroke-linejoin="round" stroke-linecap="round"/>
<polyline points="1072.46,812.52 1077.85,819.42 1083.25,784.92 1088.64,778.02 1094.04,747.83 1099.43,734.02 1104.83,784.92 1110.22,814.25 1115.62,759.04 1121.01,704.70 1126.41,805.62 1131.80,758.18 1137.20,800.44 1142.59,739.20 1147.99,791.82 1153.38,809.93 1158.78,759.04 1164.17,768.53 1169.57,817.70 1174.96,840.99 1180.36,696.93 1185.75,787.50 1191.15,783.19 1196.54,790.09 1201.94,835.81 1207.33,760.76 1212.73,742.65 1218.12,784.92 1223.52,763.35 1228.91,678.82 1234.30,719.36 1239.70,824.60 1245.09,781.47 1250.49,808.21 1255.88,804.76 1261.28,786.64 1266.67,779.74 1272.07,811.66 1277.46,786.64 1282.86,790.09 1288.25,834.95 1293.65,780.60 1299.04,781.47 1304.44,775.43 1309.83,805.62 1315.23,813.38 1320.62,730.57 1326.02,828.91 1331.41,801.31 1336.81,747.83 1342.20,815.97 1347.60,709.01" fill="none" stroke="#fa7c17" stroke-width="4.17" stroke-opacity="1.0" stroke-linejoin="round" stroke-linecap="round"/>
<line x1="175" y1="840" x2="1403" y2="840" stroke="#000" stroke-width="4"/>
</g>
<g clip-path="url(#c2)">
<polygon points="1072.46,1462.25 1077.85,1457.20 1083.25,1449.31 1088.64,1441.08 1094.04,1430.01 1099.43,1417.68 1104.83,1410.67 1110.22,1406.74 1115.62,1397.27 1121.01,1382.32 1126.41,1377.72 1131.80,1368.33 1137.20,1363.29 1142.59,1352.05 1147.99,1346.20 1153.38,1342.23 1158.78,1333.10 1164.17,1324.97 1169.57,1321.86 1174.96,1321.15 1180.36,1305.79 1185.75,1299.67 1191.15,1293.13 1196.54,1287.31 1201.94,1286.16 1207.33,1277.38 1212.73,1266.77 1218.12,1260.48 1223.52,1252.00 1228.91,1234.92 1234.30,1221.99 1239.70,1219.78 1245.09,1213.19 1250.49,1209.34 1255.88,1205.14 1261.28,1199.10 1266.67,1192.37 1272.07,1188.90 1277.46,1182.89 1282.86,1177.24 1288.25,1176.16 1293.65,1169.55 1299.04,1163.04 1304.44,1155.92 1309.83,1151.89 1315.23,1148.64 1320.62,1136.97 1326.02,1135.33 1331.41,1130.87 1336.81,1120.97 1342.20,1118.02 1347.60,1104.18 1347.60,1207.30 1342.20,1220.14 1336.81,1222.09 1331.41,1230.97 1326.02,1234.40 1320.62,1235.01 1315.23,1245.63 1309.83,1247.81 1304.44,1250.78 1299.04,1256.82 1293.65,1262.23 1288.25,1267.72 1282.86,1267.68 1277.46,1272.19 1272.07,1277.05 1266.67,1279.35 1261.28,1284.90 1255.88,1289.74 1250.49,1292.72 1245.09,1295.34 1239.70,1300.67 1234.30,1301.61 1228.91,1313.25 1223.52,1329.01 1218.12,1336.15 1212.73,1341.08 1207.33,1350.30 1201.94,1357.66 1196.54,1357.37 1191.15,1361.71 1185.75,1366.74 1180.36,1371.32 1174.96,1385.10 1169.57,1384.19 1164.17,1385.64 1158.78,1392.06 1153.38,1399.43 1147.99,1401.58 1142.59,1405.55 1137.20,1414.85 1131.80,1417.86 1126.41,1425.15 1121.01,1427.54 1115.62,1440.17 1110.22,1447.19 1104.83,1448.50 1099.43,1452.71 1094.04,1461.98 1088.64,1469.68 1083.25,1474.08 1077.85,1477.42 1072.46,1476.55" fill="#fa7c17" fill-opacity="0.25" stroke="#fa7c17" stroke-opacity="0.25" stroke-width="2.8" stroke-linejoin="round"/>
<polyline points="1072.46,1469.40 1077.85,1467.31 1083.25,1461.70 1088.64,1455.38 1094.04,1445.99 1099.43,1435.20 1104.83,1429.59 1110.22,1426.96 1115.62,1418.72 1121.01,1404.93 1126.41,1401.43 1131.80,1393.10 1137.20,1389.07 1142.59,1378.80 1147.99,1373.89 1153.38,1370.83 1158.78,1362.58 1164.17,1355.30 1169.57,1353.03 1174.96,1353.13 1180.36,1338.56 1185.75,1333.21 1191.15,1327.42 1196.54,1322.34 1201.94,1321.91 1207.33,1313.84 1212.73,1303.92 1218.12,1298.31 1223.52,1290.50 1228.91,1274.09 1234.30,1261.80 1239.70,1260.23 1245.09,1254.27 1250.49,1251.03 1255.88,1247.44 1261.28,1242.00 1266.67,1235.86 1272.07,1232.98 1277.46,1227.54 1282.86,1222.46 1288.25,1221.94 1293.65,1215.89 1299.04,1209.93 1304.44,1203.35 1309.83,1199.85 1315.23,1197.14 1320.62,1185.99 1326.02,1184.86 1331.41,1180.92 1336.81,1171.53 1342.20,1169.08 1347.60,1155.74" fill="none" stroke="#fa7c17" stroke-width="4.17" stroke-opacity="1.0" stroke-linejoin="round" stroke-linecap="round"/>
<line x1="175" y1="1477" x2="1403" y2="1477" stroke="#000" stroke-width="4"/>
</g>
<line x1="1072.00" y1="129" x2="1072.00" y2="533" stroke="#ff0000" stroke-width="8"/>
<line x1="1072.00" y1="601" x2="1072.00" y2="1005" stroke="#ff0000" stroke-width="8"/>
<line x1="1072.00" y1="1090" x2="1072.00" y2="1494" stroke="#ff0000" stroke-width="8"/>
<rect x="205.5" y="161.50" width="66.85" height="23.8" fill="#2a2eec" fill-opacity="0.25" stroke="#2a2eec" stroke-opacity="0.25" stroke-width="2.8"/>
<line x1="205" y1="172.90" x2="272" y2="172.90" stroke="#2a2eec" stroke-width="4.17" stroke-linecap="round"/>
<circle cx="239.5" cy="223.5" r="5.5" fill="#000"/>
<rect x="205.5" y="260.60" width="66.85" height="23.8" fill="#fa7c17" fill-opacity="0.25" stroke="#fa7c17" stroke-opacity="0.25" stroke-width="2.8"/>
<line x1="205" y1="272.00" x2="272" y2="272.00" stroke="#fa7c17" stroke-width="4.17" stroke-linecap="round"/>
<rect x="205.5" y="310.15" width="66.85" height="23.8" fill="#2a2eec" fill-opacity="0.25" stroke="#2a2eec" stroke-opacity="0.25" stroke-width="2.8"/>
<text transform="translate(302.09,185.10) scale(1.0690,1)" font-size="35.333" fill="#262626" x="-2.44 18.87 30.20 48.90 60.74 68.95 89.74 100.41 120.23 132.80 150.49 169.81 190.60 201.95 209.82 229.09 248.72 258.55 277.89 297.71 310.33 318.20 337.49" y="0">Pre-intervention period</text>
<text transform="translate(300.88,234.60) scale(1.0486,1)" font-size="35.333" fill="#262626" x="-1.35 24.93 44.11 60.99 81.07 93.90 111.86 132.58 144.10 152.20 171.80 190.96" y="0">Observations</text>
<text transform="translate(301.39,283.90) scale(1.0696,1)" font-size="35.333" fill="#262626" x="-1.95 21.22 40.48 60.07 80.84 91.49 111.30 124.07 134.07 153.03 171.51 182.45 201.72 221.38" y="0">Counterfactual</text>
<text transform="translate(301.20,333.30) scale(1.0563,1)" font-size="35.333" fill="#262626" x="-1.77 21.76 41.35 60.49 77.32 97.21 105.59 115.94 124.83 155.00 174.61 193.87 212.60" y="0">Causal impact</text>
<text transform="translate(543.72,45.50) scale(1.0694,1)" font-size="35.333" fill="#262626" x="-1.95 21.24 40.51 59.35 75.88 95.54 103.77 113.96 122.53 152.28 171.56 190.52 209.00 219.98 230.33 240.32 260.07 272.31 283.28 294.26" y="0">Causal impact for t3</text>
<text transform="translate(238.19,110.70) scale(1.0615,1)" font-size="47.111" fill="#262626" x="-3.11 25.58 40.95 66.14 82.09 93.27 121.26 135.76 162.46 179.48 203.38 229.47 257.46 272.77 283.49 309.52 335.96 347.77 377.52 404.01 427.91 452.97 476.20 486.95 512.99" y="0">Pre-intervention Bayesian</text>
<text transform="translate(824.95,110.70) scale(0.8353,1)" font-size="47.111" font-style="italic" fill="#262626" x="0.00" y="0">R</text>
<text transform="translate(859.43,94.10) scale(0.9653,1)" font-size="32.977" fill="#262626" x="0.00" y="0">2</text>
<text transform="translate(879.45,110.70) scale(1.1027,1)" font-size="47.111" fill="#262626" x="0.24 13.43 26.08 51.85 64.51 90.13 115.90 128.86 143.27 166.89 181.01 206.75 222.82 253.30 265.96 291.72 304.38 330.00 355.63 381.25 407.17" y="0">: 0.85 (std = 0.0094)</text>
<text transform="translate(633.19,583.60) scale(1.0473,1)" font-size="47.111" fill="#262626" x="-2.27 29.30 55.61 81.30 103.91 130.57 141.83 154.76 168.47 208.94 235.26 261.12 286.23" y="0">Causal Impact</text>
<text transform="translate(499.65,1073.60) scale(1.0603,1)" font-size="47.111" fill="#262626" x="-2.42 29.31 56.38 96.49 123.40 134.14 161.68 176.99 188.61 212.50 238.55 249.31 280.60 306.64 332.09 354.45 380.92 392.05 404.85 418.29 458.42 484.48 510.09 534.99" y="0">Cumulative Causal Impact</text>
<text transform="translate(105.35,285.80) scale(1.0395,1)" font-size="41.222" fill="#262626" x="-0.00 22.91 34.36" y="0">3.0</text>
<text transform="translate(104.83,432.80) scale(1.0376,1)" font-size="41.222" fill="#262626" x="-0.00 22.91 34.36" y="0">2.5</text>
<text transform="translate(104.85,696.80) scale(1.0373,1)" font-size="41.222" fill="#262626" x="-0.00 22.91 34.36" y="0">0.5</text>
<text transform="translate(104.83,854.80) scale(1.0488,1)" font-size="41.222" fill="#262626" x="-0.00 22.91 34.36" y="0">0.0</text>
<text transform="translate(71.02,1013.30) scale(1.1361,1)" font-size="41.222" fill="#262626" x="2.00 27.26 48.98 59.22" y="0">−0.5</text>
<text transform="translate(117.41,1169.60) scale(1.0355,1)" font-size="41.222" fill="#262626" x="0.00 22.91" y="0">10</text>
<text transform="translate(142.63,1330.60) scale(0.9363,1)" font-size="41.222" fill="#262626" x="0.00" y="0">5</text>
<text transform="translate(142.04,1492.00) scale(0.9937,1)" font-size="41.222" fill="#262626" x="0.00" y="0">0</text>
<text transform="translate(220.80,1503.87) rotate(90) scale(1.0642,1)" font-size="41.222" fill="#262626" x="0.00 22.91 45.83 68.74" y="0">2019</text>
<text transform="translate(502.80,1503.88) rotate(90) scale(1.0611,1)" font-size="41.222" fill="#262626" x="0.00 22.91 45.83 68.74" y="0">2020</text>
<text transform="translate(783.80,1503.89) rotate(90) scale(1.0542,1)" font-size="41.222" fill="#262626" x="0.00 22.91 45.83 68.74" y="0">2021</text>
<text transform="translate(1065.80,1503.89) rotate(90) scale(1.0529,1)" font-size="41.222" fill="#262626" x="0.00 22.91 45.83 68.74" y="0">2022</text>
<text transform="translate(1346.80,1503.88) rotate(90) scale(1.0584,1)" font-size="41.222" fill="#262626" x="0.00 22.91 45.83 68.74" y="0">2023</text>
<text transform="translate(83.00,516.18) rotate(-90) scale(1.0372,1)" font-size="44.167" fill="#262626" x="-2.11 25.15 50.25 60.63 84.48 106.07 118.94 135.72 149.97 174.75 199.53 223.74 245.05 269.85 295.08 319.31 341.13" y="0">Sales (thousands)</text>
<text transform="translate(51.30,987.78) rotate(-90) scale(1.0372,1)" font-size="44.167" fill="#262626" x="-2.11 25.15 50.25 60.63 84.48 106.07 118.94 135.72 149.97 174.75 199.53 223.74 245.05 269.85 295.08 319.31 341.13" y="0">Sales (thousands)</text>
<text transform="translate(96.30,1476.98) rotate(-90) scale(1.0372,1)" font-size="44.167" fill="#262626" x="-2.11 25.15 50.25 60.63 84.48 106.07 118.94 135.72 149.97 174.75 199.53 223.74 245.05 269.85 295.08 319.31 341.13" y="0">Sales (thousands)</text>
</svg>
</body></html>
